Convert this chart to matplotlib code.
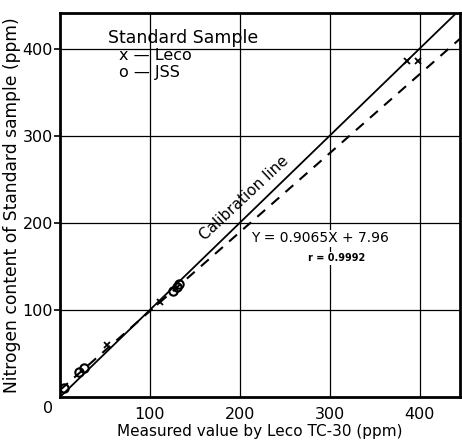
import numpy as np
from matplotlib import pyplot as plt

# Leco standard samples (x markers)
leco_x = [52, 111, 386, 398]
leco_y = [60, 109, 386, 386]
# JSS standard samples (open circles)
jss_x = [4, 21, 27, 126, 130, 132]
jss_y = [10, 29, 33, 122, 126, 130]

slope, intercept = 0.9065, 7.96
ticks = [100, 200, 300, 400]

plt.rcParams['font.family'] = 'DejaVu Sans'
fig = plt.figure(figsize=(4.62, 4.42), dpi=100)
ax = fig.add_axes([0.130, 0.102, 0.866, 0.869])

xs = np.array([0, 445])
ax.plot(xs, xs, color='black', lw=1.3)
ax.plot(xs, slope * xs + intercept, color='black', lw=1.5, ls=(0, (5, 4)))

ax.plot(leco_x, leco_y, 'x', color='black', ms=4, mew=1.3)
ax.plot(jss_x, jss_y, 'o', mfc='none', mec='black', ms=6, mew=1.5)

ax.set_xlim(0, 445)
ax.set_ylim(0, 441)
ax.set_xticks(ticks)
ax.set_yticks(ticks)
ax.tick_params(labelsize=11.5, length=4, width=1.2, pad=1)
ax.tick_params(axis='x', length=0, pad=7)
ax.grid(True, color='black', lw=0.9)
for s in ax.spines.values():
    s.set_linewidth(2)
ax.text(-0.03, -0.03, '0', transform=ax.transAxes, ha='center', va='center', fontsize=11.5)

ax.set_xlabel('Measured value by Leco TC-30 (ppm)', fontsize=11, labelpad=2)
ax.set_ylabel('Nitrogen content of Standard sample (ppm)', fontsize=12.3, labelpad=1)

ax.text(210, 222, 'Calibration line', rotation=44, rotation_mode='anchor',
        ha='center', va='bottom', fontsize=11, transform_rotates_text=True)
ax.text(212, 182, 'Y = 0.9065X + 7.96', fontsize=10, va='center',
        bbox=dict(facecolor='white', edgecolor='none', pad=1))
ax.text(276, 159, 'r = 0.9992', fontsize=7, va='center', fontweight='bold',
        bbox=dict(facecolor='white', edgecolor='none', pad=1))

ax.text(53, 412, 'Standard Sample', fontsize=12.5, va='center')
ax.text(66, 392, 'x — Leco', fontsize=11.5, va='center')
ax.text(66, 372, 'o — JSS', fontsize=11.5, va='center')

plt.savefig('out.png', dpi=100)
